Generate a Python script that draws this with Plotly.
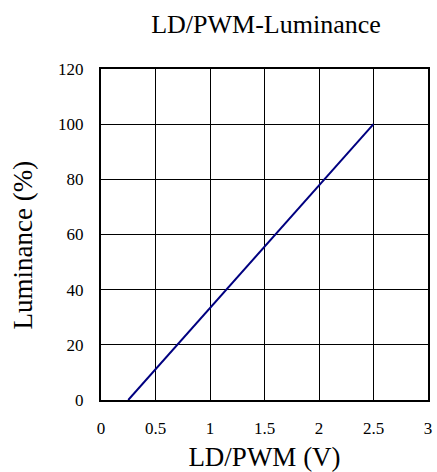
import plotly.graph_objects as go

# Data
ld_pwm_v = [0.25, 2.5]
luminance_pct = [0, 100]
x_ticks = [0, 0.5, 1, 1.5, 2, 2.5, 3]
x_tick_labels = ["0", "0.5", "1", "1.5", "2", "2.5", "3"]
y_ticks = [0, 20, 40, 60, 80, 100, 120]
y_tick_labels = ["0", "20", "40", "60", "80", "100", "120"]

FONT = "Liberation Serif"

fig = go.Figure()
fig.add_trace(go.Scatter(
    x=ld_pwm_v, y=luminance_pct, mode="lines",
    line=dict(color="#000080", width=2),
    showlegend=False, hoverinfo="skip",
))

fig.update_layout(
    width=437, height=472,
    margin=dict(l=101, r=5, t=69, b=71),
    paper_bgcolor="white", plot_bgcolor="white",
    font=dict(family=FONT, color="black", size=17),
    title=dict(
        text="LD/PWM-Luminance",
        font=dict(family=FONT, size=26, color="black"),
        x=266 / 437, xanchor="center", xref="container",
        y=1 - 24 / 472, yanchor="middle", yref="container",
    ),
    annotations=[dict(
        text="Luminance (%)", textangle=-90,
        xref="paper", yref="paper",
        x=-(101 - 23) / 331, y=(401 - 245) / 332,
        xanchor="center", yanchor="middle", showarrow=False,
        font=dict(family=FONT, size=27, color="black"),
    )],
)

fig.update_xaxes(
    range=[0, 3], tickvals=x_ticks, ticktext=x_tick_labels,
    showgrid=True, gridcolor="black", gridwidth=1,
    showline=True, linecolor="black", linewidth=2, mirror=True,
    zeroline=False, ticks="", ticklabelstandoff=12,
    tickfont=dict(family=FONT, size=17, color="black"),
    title=dict(text="LD/PWM (V)", font=dict(family=FONT, size=27, color="black"), standoff=10),
)
fig.update_yaxes(
    range=[0, 120], tickvals=y_ticks, ticktext=y_tick_labels,
    showgrid=True, gridcolor="black", gridwidth=1,
    showline=True, linecolor="black", linewidth=2, mirror=True,
    zeroline=False, ticks="", ticklabelstandoff=12,
    tickfont=dict(family=FONT, size=17, color="black"),
)

fig.write_html(
    "out.html",
    config={"displayModeBar": False, "staticPlot": True},
    post_script="document.body.style.margin='0';document.body.style.overflow='hidden';",
)
